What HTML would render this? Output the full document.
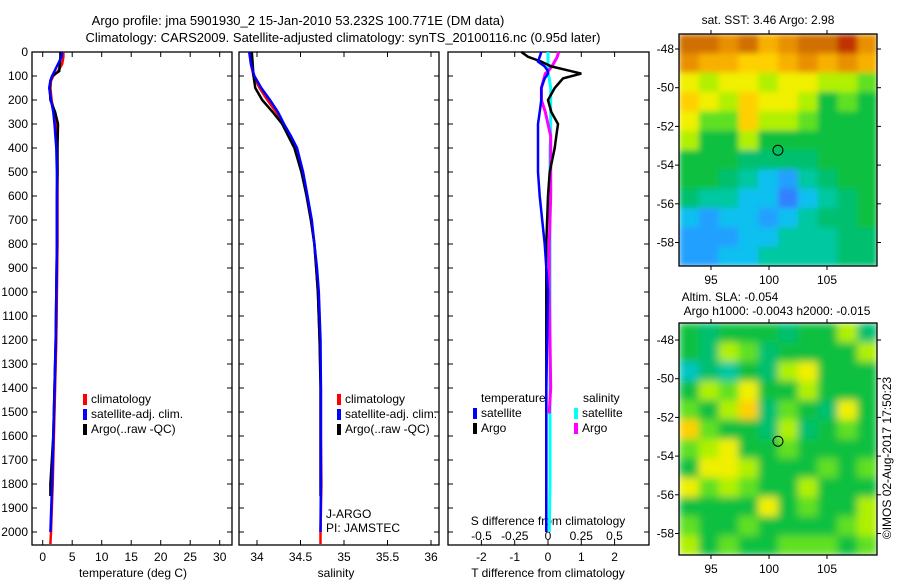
<!DOCTYPE html>
<html><head><meta charset="utf-8"><style>
body{margin:0;background:#fff}
svg{display:block;font-family:"Liberation Sans",sans-serif;font-size:12px}
</style></head><body>
<svg id="fig" width="900" height="580" viewBox="0 0 900 580" xmlns="http://www.w3.org/2000/svg">
<defs>
<filter id="blur3" x="0" y="0" width="1" height="1"><feGaussianBlur stdDeviation="3" edgeMode="duplicate"/></filter>
<filter id="blur4" x="0" y="0" width="1" height="1"><feGaussianBlur stdDeviation="4" edgeMode="duplicate"/></filter>
<clipPath id="clipA"><rect x="679" y="34" width="198" height="232"/></clipPath>
<clipPath id="clipB"><rect x="679" y="323" width="198" height="232"/></clipPath>
</defs>
<text x="298" y="25" text-anchor="middle" font-size="13">Argo profile: jma 5901930_2 15-Jan-2010 53.232S 100.771E (DM data)</text>
<text x="343" y="42" text-anchor="middle" font-size="13">Climatology: CARS2009. Satellite-adjusted climatology: synTS_20100116.nc (0.95d later)</text>
<g id="g"></g>
</svg>
<script>
// ---- data ----
const tDepth=[0,20,50,80,100,120,150,200,250,300,400,500,600,800,1000,1200,1400,1600,1800,2000,2050];
const tClim=[3.5,3.5,3.3,2.6,1.8,1.4,1.3,1.5,1.9,2.2,2.4,2.5,2.5,2.5,2.4,2.3,2.1,1.9,1.7,1.4,1.3];
const tSat=[3.3,3.2,2.6,2.0,1.6,1.3,1.1,1.4,1.8,2.0,2.3,2.4,2.4,2.4,2.3,2.2,2.0,1.8,1.6,1.3,1.3];
const tArgo=[3.0,3.0,2.9,2.8,1.6,1.3,1.2,1.3,2.1,2.6,2.5,2.5,2.4,2.4,2.3,2.2,2.0,1.8,1.3,1.3,1.3];
const sDepth=[0,50,100,150,200,250,300,350,400,500,600,700,800,900,1000,1200,1400,1600,1800,2000,2050];
const sClim=[33.92,33.93,33.96,34.03,34.12,34.22,34.30,34.38,34.45,34.52,34.57,34.62,34.66,34.68,34.70,34.72,34.735,34.735,34.74,34.73,34.73];
const sSat=[33.91,33.93,33.97,34.05,34.15,34.24,34.31,34.39,34.46,34.53,34.58,34.63,34.66,34.69,34.71,34.73,34.735,34.735,34.735,34.73,34.73];
const sArgo=[33.94,33.95,33.96,33.98,34.06,34.18,34.29,34.36,34.43,34.51,34.57,34.62,34.66,34.68,34.70,34.72,34.73,34.73,34.73,34.73,34.73];
const dDepth=[0,20,40,60,80,90,110,150,200,250,300,350,400,500,600,800,1000,1400,1800,2000];
const dTArgo=[-0.8,-0.6,-0.2,0.1,0.7,1.0,0.45,0.2,0.0,0.1,0.3,0.25,0.2,0.05,0.0,-0.05,-0.05,-0.05,-0.05,-0.05];
const dTSat=[-0.2,-0.25,-0.3,-0.1,0.0,0.0,-0.1,-0.2,-0.2,-0.25,-0.3,-0.3,-0.3,-0.3,-0.25,-0.1,0.0,-0.05,-0.05,-0.05];
const dSSat=[0.0,0.0,0.0,0.0,0.0,0.0,0.01,0.02,0.02,0.02,0.02,0.02,0.015,0.015,0.015,0.015,0.015,0.015,0.015,0.01];
const dSArgo=[0.08,0.07,0.05,0.03,0.0,-0.02,-0.03,-0.05,-0.05,-0.02,0.0,0.02,0.02,0.02,0.02,0.01,0.01,0.02,0.01,0.0];
const depthTicks=[0,100,200,300,400,500,600,700,800,900,1000,1100,1200,1300,1400,1500,1600,1700,1800,1900,2000];
const tTicks=[0,5,10,15,20,25,30];
const sTicks=[34,34.5,35,35.5,36];
const dTTicks=[-2,-1,0,1,2];
const dSTicks=[-0.5,-0.25,0,0.25,0.5];
const lonTicks=[95,100,105];
const latTicks=[48,50,52,54,56,58];
const sstGrid=[
[0.85,0.85,0.8,0.85,0.75,0.8,0.85,0.85,0.9,0.8],
[0.8,0.75,0.75,0.7,0.7,0.75,0.8,0.75,0.8,0.75],
[0.65,0.6,0.65,0.65,0.6,0.65,0.65,0.6,0.6,0.55],
[0.7,0.65,0.6,0.7,0.65,0.65,0.6,0.5,0.55,0.5],
[0.65,0.55,0.55,0.7,0.6,0.6,0.55,0.5,0.5,0.5],
[0.6,0.5,0.5,0.6,0.5,0.5,0.5,0.5,0.5,0.5],
[0.5,0.5,0.5,0.45,0.45,0.45,0.45,0.5,0.5,0.5],
[0.5,0.5,0.45,0.4,0.35,0.3,0.4,0.45,0.5,0.5],
[0.45,0.4,0.4,0.35,0.35,0.25,0.35,0.4,0.45,0.5],
[0.35,0.3,0.35,0.35,0.3,0.35,0.4,0.45,0.45,0.5],
[0.3,0.3,0.3,0.35,0.35,0.4,0.4,0.4,0.45,0.45],
[0.3,0.3,0.35,0.35,0.4,0.4,0.4,0.4,0.45,0.45]];
const slaGrid=[
[0.5,0.45,0.5,0.5,0.5,0.45,0.5,0.5,0.6,0.45],
[0.5,0.45,0.6,0.55,0.45,0.5,0.5,0.5,0.5,0.6],
[0.38,0.45,0.4,0.5,0.45,0.6,0.65,0.5,0.5,0.5],
[0.5,0.6,0.55,0.65,0.5,0.5,0.6,0.5,0.5,0.5],
[0.55,0.5,0.6,0.7,0.45,0.55,0.5,0.45,0.65,0.5],
[0.7,0.55,0.5,0.5,0.45,0.6,0.45,0.5,0.55,0.5],
[0.55,0.6,0.65,0.5,0.5,0.55,0.5,0.5,0.5,0.5],
[0.5,0.65,0.65,0.6,0.5,0.5,0.5,0.55,0.5,0.55],
[0.65,0.55,0.6,0.55,0.5,0.5,0.6,0.5,0.5,0.5],
[0.5,0.5,0.5,0.5,0.65,0.5,0.55,0.5,0.5,0.6],
[0.55,0.5,0.5,0.55,0.5,0.5,0.5,0.5,0.55,0.6],
[0.6,0.5,0.55,0.5,0.5,0.55,0.55,0.55,0.5,0.55]];
const argoLon=100.771, argoLat=53.232;

// ---- helpers ----
const NS='http://www.w3.org/2000/svg', G=document.getElementById('g');
function mk(t,a,p){const e=document.createElementNS(NS,t);for(const k in a)e.setAttribute(k,a[k]);(p||G).appendChild(e);return e;}
const yD=d=>52+d*0.24;
const PT={x0:32,x1:232,f:v=>42.7+v*5.9};
const PS={x0:239,x1:439,f:v=>257+(v-34)*87};
const PD={x0:448,x1:649,fT:v=>548+v*33.3,fS:v=>548+v*133};
function frame(p,name){
  const r=mk('rect',{x:p.x0,y:52,width:p.x1-p.x0,height:493,fill:'none',stroke:'#000','stroke-width':1.3});
  
  
  depthTicks.forEach(d=>{mk('line',{x1:p.x0,x2:p.x0+5,y1:yD(d),y2:yD(d),stroke:'#000'});mk('line',{x1:p.x1,x2:p.x1-5,y1:yD(d),y2:yD(d),stroke:'#000'});});
}
function profile(xs,ds,f,color,name,w){
  const pts=xs.map((v,i)=>f(v).toFixed(1)+','+yD(ds[i]).toFixed(1)).join(' ');
  const e=mk('polyline',{points:pts,fill:'none',stroke:color,'stroke-width':w||2.5});
  
  
}
function txt(x,y,s,name,anchor,size){const e=mk('text',{x:x,y:y,'text-anchor':anchor||'start','font-size':size||12});e.textContent=s;return e;}
function xTicks(ticks,f,p,labY,name,top){
  ticks.forEach(v=>{const x=f(v);mk('line',{x1:x,x2:x,y1:545,y2:540,stroke:'#000'});if(top!==false)mk('line',{x1:x,x2:x,y1:52,y2:57,stroke:'#000'});
    txt(x,labY,String(v),name,'middle');});
}
// panel 1
frame(PT,'temperature-panel');
depthTicks.forEach(d=>txt(28,yD(d)+4,String(d),'depth-tick-label','end'));
xTicks(tTicks,PT.f,PT,561,'temperature-tick-label');
txt(133,577,'temperature (deg C)','temperature-axis-title','middle');
profile(tClim,tDepth,PT.f,'#f00','temperature-climatology-line');
profile(tArgo,tDepth.map(d=>Math.min(d,1850)),PT.f,'#000','temperature-argo-line');
profile(tSat,tDepth.map(d=>Math.min(d,2000)),PT.f,'#00f','temperature-satellite-line');
function legend(x,y,items,name){items.forEach((it,i)=>{mk('rect',{x:x,y:y+i*15-9,width:4,height:11,fill:it[1]});txt(x+8,y+i*15,it[0],name);});}
legend(83,403,[['climatology','#f00'],['satellite-adj. clim.','#00f'],['Argo(..raw -QC)','#000']],'temperature-legend-entry');
// panel 2
frame(PS,'salinity-panel');
xTicks(sTicks,PS.f,PS,561,'salinity-tick-label');
txt(336,577,'salinity','salinity-axis-title','middle');
profile(sClim,sDepth,PS.f,'#f00','salinity-climatology-line');
profile(sArgo,sDepth.map(d=>Math.min(d,1850)),PS.f,'#000','salinity-argo-line');
profile(sSat,sDepth.map(d=>Math.min(d,2000)),PS.f,'#00f','salinity-satellite-line');
legend(337,403,[['climatology','#f00'],['satellite-adj. clim.','#00f'],['Argo(..raw -QC)','#000']],'salinity-legend-entry');
txt(326,518,'J-ARGO','j-argo-label');
txt(326,532,'PI: JAMSTEC','pi-label');
// panel 3
frame(PD,'difference-panel');
dTTicks.forEach(v=>{const x=PD.fT(v);mk('line',{x1:x,x2:x,y1:545,y2:540,stroke:'#000'});mk('line',{x1:x,x2:x,y1:52,y2:57,stroke:'#000'});txt(x,561,String(v),'t-diff-tick-label','middle');});
dSTicks.forEach(v=>txt(PD.fS(v),540,String(v),'s-diff-tick-label','middle'));
txt(548,525,'S difference from climatology','s-diff-axis-title','middle');
txt(548,577,'T difference from climatology','t-diff-axis-title','middle');
profile(dSSat,dDepth,PD.fS,'#0ff','salinity-satellite-diff-line',3);
profile(dSArgo,dDepth.map(d=>Math.min(d,1500)),PD.fS,'#f0f','salinity-argo-diff-line',3);
profile(dTArgo,dDepth,PD.fT,'#000','temperature-argo-diff-line');
profile(dTSat,dDepth,PD.fT,'#00f','temperature-satellite-diff-line');
txt(481,402,'temperature','diff-legend-temperature-heading');
txt(583,402,'salinity','diff-legend-salinity-heading');
legend(473,417,[['satellite','#00f'],['Argo','#000']],'diff-legend-temperature-entry');
legend(574,417,[['satellite','#0ff'],['Argo','#f0f']],'diff-legend-salinity-entry');
// maps
const cmapV=[0.2,0.25,0.3,0.35,0.4,0.45,0.5,0.55,0.6,0.65,0.7,0.75,0.8,0.85,0.9];
const cmapC=[[40,80,255],[48,128,255],[32,160,255],[16,192,240],[0,200,160],[0,192,112],[16,192,64],[96,224,32],[176,240,0],[240,240,0],[255,208,0],[248,176,0],[232,144,0],[208,112,0],[192,48,0]];
function col(v){for(let i=0;i<cmapV.length-1;i++){if(v<=cmapV[i+1]){const t=Math.max(0,(v-cmapV[i])/(cmapV[i+1]-cmapV[i]));const a=cmapC[i],b=cmapC[i+1];return 'rgb('+a.map((c,k)=>Math.round(c+(b[k]-c)*t)).join(',')+')';}}return 'rgb(192,48,0)';}
function map(grid,top,lat48,name,clip,blur){
  const x0=679,x1=877,y1=top+232, lonF=l=>769+(l-100)*11.6, latF=l=>lat48+(l-48)*19.35;
  const cw=(x1-x0)/grid[0].length,ch=(y1-top)/grid.length;
  const cg=mk('g',{'clip-path':'url(#'+clip+')'});
  const bg=mk('g',{filter:'url(#'+blur+')'},cg);
  grid.forEach((row,r)=>row.forEach((v,c)=>{const e=mk('rect',{x:x0+c*cw,y:top+r*ch,width:cw+0.5,height:ch+0.5,fill:col(v)},bg);
    
    }));
  const f=mk('rect',{x:x0,y:top,width:x1-x0,height:y1-top,fill:'none',stroke:'#000','stroke-width':1.3});
  
  
  lonTicks.forEach(l=>{const x=lonF(l);mk('line',{x1:x,x2:x,y1:y1,y2:y1+4,stroke:'#000'});mk('line',{x1:x,x2:x,y1:top,y2:top-4,stroke:'#000'});txt(x,y1+18,String(l),name+'-lon-label','middle');});
  latTicks.forEach(l=>{const y=latF(l);mk('line',{x1:x0,x2:x0-4,y1:y,y2:y,stroke:'#000'});mk('line',{x1:x1,x2:x1+4,y1:y,y2:y,stroke:'#000'});txt(x0-5,y+4,'-'+l,name+'-lat-label','end');});
  const c=mk('circle',{cx:lonF(argoLon),cy:latF(argoLat),r:5,fill:'none',stroke:'#000','stroke-width':1});
  
  
}
map(sstGrid,34,49,'sst-map','clipA','blur3');
map(slaGrid,323,340,'sla-map','clipB','blur4');
txt(768,24,'sat. SST: 3.46 Argo: 2.98','sst-map-title','middle');
txt(730,301,'Altim. SLA: -0.054','sla-map-title','middle');
txt(777,315,'Argo h1000: -0.0043 h2000: -0.015','sla-map-subtitle','middle');
const cr=txt(0,0,'©IMOS 02-Aug-2017 17:50:23','imos-credit','middle');
cr.setAttribute('transform','translate(891,458) rotate(-90)');
</script>
</body></html>
